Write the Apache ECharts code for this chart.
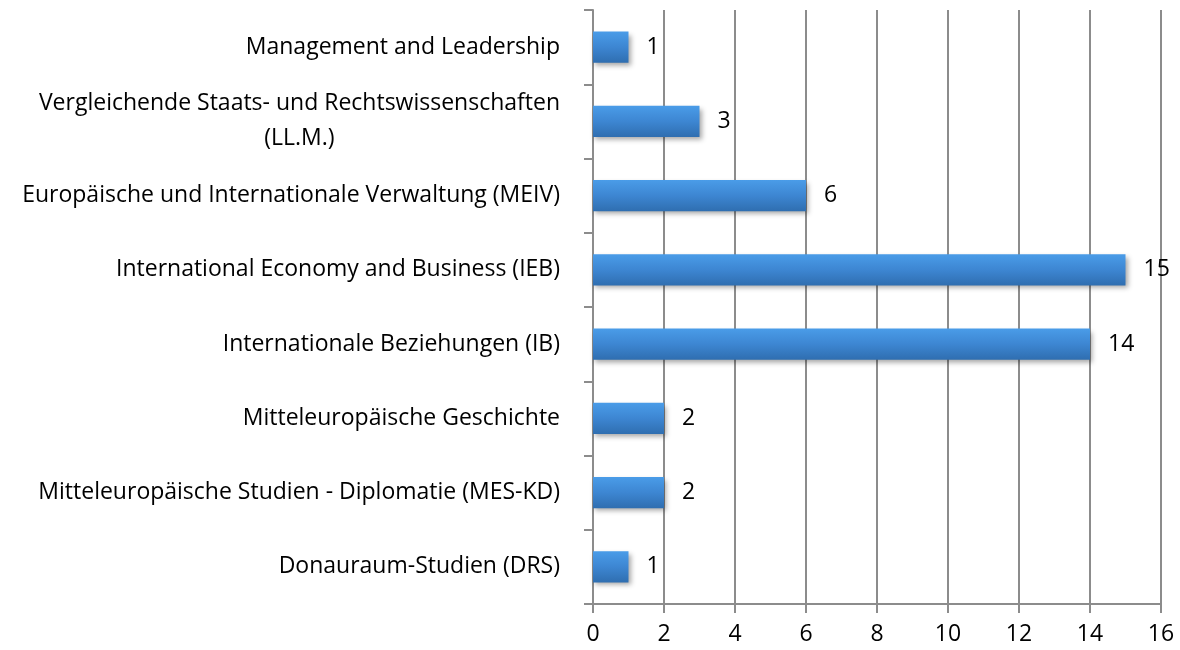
<!DOCTYPE html>
<html>
<head>
<meta charset="utf-8">
<script src="https://cdn.jsdelivr.net/npm/echarts@6/dist/echarts.min.js"></script>
<style>
  html, body { margin: 0; padding: 0; background: #fff; }
  #chart { width: 1180px; height: 650px; }
</style>
</head>
<body>
<div id="chart"></div>
<script>
// Kategorien von unten nach oben
var programmes = [
  'Donauraum-Studien (DRS)',
  'Mitteleuropäische Studien - Diplomatie (MES-KD)',
  'Mitteleuropäische Geschichte',
  'Internationale Beziehungen (IB)',
  'International Economy and Business (IEB)',
  'Europäische und Internationale Verwaltung (MEIV)',
  'Vergleichende Staats- und Rechtswissenschaften\n(LL.M.)',
  'Management and Leadership'
]
var counts = [1, 2, 2, 14, 15, 6, 3, 1]

var font = 'Open Sans'
var fs = 23
var myChart = echarts.init(document.getElementById('chart'))
var option = {
  animation: false,
  textStyle: { fontFamily: font },
  grid: {
    top: 10,
    left: 593,
    right: 19,
    bottom: 46
  },
  xAxis: {
    type: 'value',
    min: 0,
    max: 16,
    interval: 2,
    axisLine: { show: true, lineStyle: { color: '#8c8c8c', width: 2 } },
    axisTick: { show: true, length: 9, lineStyle: { color: '#8c8c8c', width: 2 } },
    axisLabel: { color: '#000', fontSize: fs, fontFamily: font, margin: 19 },
    splitLine: { show: true, lineStyle: { color: '#8c8c8c', width: 2 } }
  },
  yAxis: {
    type: 'category',
    data: programmes,
    axisLine: { show: true, lineStyle: { color: '#8c8c8c', width: 2 } },
    axisTick: { show: true, length: 9, lineStyle: { color: '#8c8c8c', width: 2 } },
    axisLabel: {
      color: '#000',
      fontSize: fs,
      fontFamily: font,
      margin: 33,
      formatter: function (v) {
        return v.split('\n').map(function (s) { return '{c|' + s + '}' }).join('\n')
      },
      rich: {
        c: { align: 'center', fontSize: fs, fontFamily: font, color: '#000', lineHeight: 35 }
      }
    }
  },
  series: [
    {
      type: 'bar',
      data: counts,
      barWidth: '42%',
      itemStyle: {
        color: new echarts.graphic.LinearGradient(0, 0, 0, 1, [
          { offset: 0, color: '#4a9ce8' },
          { offset: 0.5, color: '#3d86d2' },
          { offset: 1, color: '#2f6eb0' }
        ]),
        shadowColor: 'rgba(0, 0, 0, 0.35)',
        shadowBlur: 5,
        shadowOffsetX: 2,
        shadowOffsetY: 3
      },
      label: {
        show: true,
        position: 'right',
        distance: 18,
        color: '#000',
        fontSize: fs,
        fontFamily: font
      }
    }
  ]
}
option && myChart.setOption(option)
</script>
</body>
</html>
